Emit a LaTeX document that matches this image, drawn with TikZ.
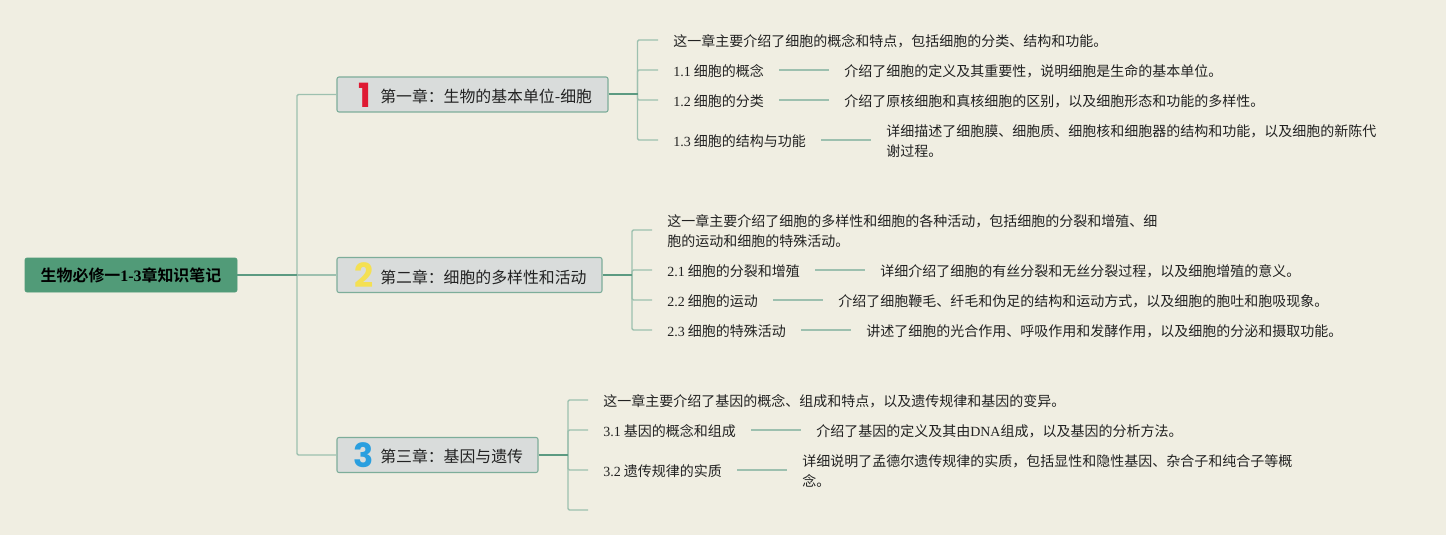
\documentclass[tikz,border=0pt]{standalone}
\usepackage{fontspec}
\setmainfont{Noto Sans CJK SC}[BoldFont={Noto Sans CJK SC Bold}]
\newfontfamily\lat{Liberation Serif}[BoldFont={Liberation Serif Bold}]
\newfontfamily\numf{Poppins}[BoldFont={Poppins Bold}]
\definecolor{bgc}{HTML}{F0EEE2}
\definecolor{rootc}{HTML}{519B78}
\definecolor{boxc}{HTML}{D9DCDB}
\definecolor{boxl}{HTML}{7DAD9A}
\definecolor{lightl}{HTML}{9DC0AF}
\definecolor{darkl}{HTML}{5C9A81}
\definecolor{txt}{HTML}{222222}
\definecolor{numa}{HTML}{DF1A33}
\definecolor{numb}{HTML}{F4E053}
\definecolor{numc}{HTML}{2A9FDF}
\tikzset{
  x=0.75pt,y=-0.75pt,
  rootbox/.style={draw=rootc,fill=rootc,rounded corners=1.5pt,inner sep=0pt,line width=0.5pt,text=black,font=\fontsize{11.95}{14}\selectfont\bfseries},
  chapbox/.style={draw=boxl,fill=boxc,rounded corners=1.5pt,line width=0.8pt,inner sep=0pt},
  chaptext/.style={anchor=west,inner sep=0pt,text=txt,font=\fontsize{11.9}{14}\selectfont},
  numtext/.style={inner sep=0pt,font=\fontsize{25}{25}\selectfont\numf\bfseries},
  leaf/.style={anchor=west,inner sep=0pt,text=txt,align=left,font=\fontsize{10.5}{15}\selectfont},
  lightline/.style={draw=lightl,line width=1.1pt},
  darkline/.style={draw=darkl,line width=1.5pt},
  branch/.style={lightline,rounded corners=1pt,shorten >=11.25pt},
  twig/.style={lightline,shorten <=11.25pt,shorten >=11.25pt},
}
\begin{document}
\begin{tikzpicture}
\path[fill=bgc,use as bounding box] (0,0) rectangle (1446,535);
% boxes
\node[rootbox,minimum width=159pt,minimum height=25.5pt] (root) at (131,275) {\raisebox{-0.75pt}{生物必修一{\lat\bfseries 1-3}章知识笔记}};
\node[chapbox,minimum width=203.25pt,minimum height=26.25pt] (c1) at (472.5,94.5) {};
\node[chapbox,minimum width=198.75pt,minimum height=26.25pt] (c2) at (469.5,275) {};
\node[chapbox,minimum width=150.75pt,minimum height=26.25pt] (c3) at (437.5,455) {};
\node[numtext,text=numa] (n1) at (365,95) {1};
\node[numtext,text=numb] (n2) at (364,275) {2};
\node[numtext,text=numc] (n3) at (364,455) {3};
\node[chaptext] (t1) at (380,96) {第一章：生物的基本单位-细胞};
\node[chaptext] (t2) at (380,277) {第二章：细胞的多样性和活动};
\node[chaptext] (t3) at (380,456) {第三章：基因与遗传};
% chapter 1 leaves
\node[leaf] (a0) at (673,41) {这一章主要介绍了细胞的概念和特点，包括细胞的分类、结构和功能。};
\node[leaf] (a1) at (673,71) {{\lat 1.1} 细胞的概念};
\node[leaf] (a2) at (673,101) {{\lat 1.2} 细胞的分类};
\node[leaf] (a3) at (673,141) {{\lat 1.3} 细胞的结构与功能};
\node[leaf] (d1) at (844,71) {介绍了细胞的定义及其重要性，说明细胞是生命的基本单位。};
\node[leaf] (d2) at (844,101) {介绍了原核细胞和真核细胞的区别，以及细胞形态和功能的多样性。};
\node[leaf] (d3) at (886,141) {详细描述了细胞膜、细胞质、细胞核和细胞器的结构和功能，以及细胞的新陈代\\谢过程。};
% chapter 2 leaves
\node[leaf] (b0) at (667,231) {这一章主要介绍了细胞的多样性和细胞的各种活动，包括细胞的分裂和增殖、细\\胞的运动和细胞的特殊活动。};
\node[leaf] (b1) at (667,271) {{\lat 2.1} 细胞的分裂和增殖};
\node[leaf] (b2) at (667,301) {{\lat 2.2} 细胞的运动};
\node[leaf] (b3) at (667,331) {{\lat 2.3} 细胞的特殊活动};
\node[leaf] (e1) at (880,271) {详细介绍了细胞的有丝分裂和无丝分裂过程，以及细胞增殖的意义。};
\node[leaf] (e2) at (838,301) {介绍了细胞鞭毛、纤毛和伪足的结构和运动方式，以及细胞的胞吐和胞吸现象。};
\node[leaf] (e3) at (866,331) {讲述了细胞的光合作用、呼吸作用和发酵作用，以及细胞的分泌和摄取功能。};
% chapter 3 leaves
\node[leaf] (g0) at (603,401) {这一章主要介绍了基因的概念、组成和特点，以及遗传规律和基因的变异。};
\node[leaf] (g1) at (603,431) {{\lat 3.1} 基因的概念和组成};
\node[leaf] (g2) at (603,471) {{\lat 3.2} 遗传规律的实质};
\node[leaf] (h1) at (816,431) {介绍了基因的定义及其由{\lat DNA}组成，以及基因的分析方法。};
\node[leaf] (h2) at (802,471) {详细说明了孟德尔遗传规律的实质，包括显性和隐性基因、杂合子和纯合子等概\\念。};
% junctions
\coordinate (trunk) at (297,275);
\coordinate (j1) at (637.5,94.5);
\coordinate (j2) at (632,275);
\coordinate (j3) at (568,455);
\coordinate (g3) at (588,510);
% main connectors
\draw[lightline,rounded corners=1pt] (trunk) |- (c1.west);
\draw[lightline] (trunk) -- (c2.west);
\draw[lightline,rounded corners=1pt] (trunk) |- (c3.west);
\foreach \n in {a0,a1,a2,a3} \draw[branch] (j1) |- ([yshift=0.75pt]\n.west);
\foreach \n in {b0,b1,b2,b3} \draw[branch] (j2) |- ([yshift=0.75pt]\n.west);
\foreach \n in {g0,g1,g2} \draw[branch] (j3) |- ([yshift=0.75pt]\n.west);
\draw[lightline,rounded corners=1pt] (j3) |- (g3);
\draw[darkline] (root.east) -- (trunk);
\draw[darkline] (c1.east) -- (j1);
\draw[darkline] (c2.east) -- (j2);
\draw[darkline] (c3.east) -- (j3);
% twigs
\foreach \p/\q in {a1/d1,a2/d2,a3/d3,b1/e1,b2/e2,b3/e3,g1/h1,g2/h2}
  \draw[twig] ([yshift=0.75pt]\p.east) -- ([yshift=0.75pt]\q.west);
\end{tikzpicture}
\end{document}
